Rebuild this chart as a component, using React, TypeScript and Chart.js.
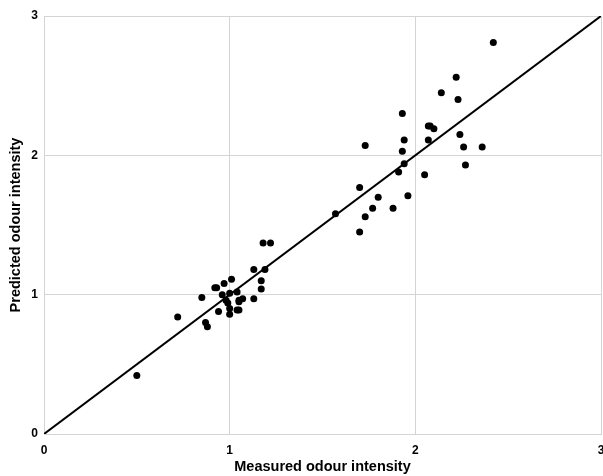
import React, { useEffect, useRef } from "react";
import { Chart, registerables } from "chart.js";

Chart.register(...registerables);

const measured = [
  0.50, 0.72, 0.85, 0.87, 0.88, 0.92, 0.93, 0.94, 0.97, 0.96, 0.98, 0.99, 1.00, 1.01, 1.00, 1.00,
  1.04, 1.04, 1.05, 1.05, 1.05, 1.07, 1.13, 1.13, 1.17, 1.17, 1.19, 1.18, 1.22,
  1.57, 1.70, 1.70, 1.73, 1.73, 1.77, 1.80, 1.88, 1.91, 1.93, 1.93, 1.94, 1.94, 1.96, 2.05,
  2.07, 2.07, 2.08, 2.10, 2.14, 2.22, 2.23, 2.24, 2.26, 2.27, 2.36, 2.42,
];
const predicted = [
  0.42, 0.84, 0.98, 0.80, 0.77, 1.05, 1.05, 0.88, 1.08, 1.00, 0.96, 0.94, 1.01, 1.11, 0.90, 0.86,
  1.02, 0.89, 0.89, 0.96, 0.95, 0.97, 0.97, 1.18, 1.10, 1.04, 1.18, 1.37, 1.37,
  1.58, 1.45, 1.77, 1.56, 2.07, 1.62, 1.70, 1.62, 1.88, 2.30, 2.03, 1.94, 2.11, 1.71, 1.86,
  2.11, 2.21, 2.21, 2.19, 2.45, 2.56, 2.40, 2.15, 2.06, 1.93, 2.06, 2.81,
];
const identityLine = [0, 3];
const tickValues = [0, 1, 2, 3];
const xTitle = "Measured odour intensity";
const yTitle = "Predicted odour intensity";

export default function App() {
  const ref = useRef<HTMLCanvasElement>(null);
  useEffect(() => {
    document.body.style.margin = "0";
    const ctx = ref.current!.getContext("2d")!;
    const font = "'Liberation Sans', Arial, sans-serif";
    const chart = new Chart(ctx, {
      type: "scatter",
      data: {
        datasets: [
          {
            type: "line",
            data: identityLine.map((v) => ({ x: v, y: v })),
            borderColor: "#000",
            borderWidth: 2,
            pointRadius: 0,
            fill: false,
          } as any,
          {
            type: "scatter",
            data: measured.map((x, i) => ({ x, y: predicted[i] })),
            backgroundColor: "#000",
            borderColor: "#000",
            pointRadius: 3.5,
            borderWidth: 0,
          },
        ],
      },
      options: {
        animation: false,
        responsive: false,
        devicePixelRatio: 1,
        layout: { padding: { left: 0, right: 0, top: 16, bottom: 0 } },
        plugins: { legend: { display: false }, tooltip: { enabled: false } },
        scales: {
          x: {
            type: "linear",
            min: 0,
            max: 3,
            afterBuildTicks: (s: any) => {
              s.ticks = tickValues.map((v) => ({ value: v }));
            },
            afterFit: (s: any) => {
              s.height = 42;
              s.paddingLeft = 0;
              s.paddingRight = 0;
            },
            grid: { color: "#d4d4d4", drawTicks: false, lineWidth: 1 },
            border: { display: true, color: "#d4d4d4" },
            ticks: {
              padding: 9,
              color: "#000",
              font: { family: font, size: 12, weight: "bold" },
            },
            title: {
              display: true,
              text: xTitle,
              color: "#000",
              font: { family: font, size: 14.5, weight: "bold" },
              padding: { top: 2, bottom: 0 },
            },
          },
          y: {
            type: "linear",
            min: 0,
            max: 3,
            afterBuildTicks: (s: any) => {
              s.ticks = tickValues.map((v) => ({ value: v }));
            },
            afterFit: (s: any) => {
              s.width = 44;
              s.paddingTop = 0;
              s.paddingBottom = 0;
            },
            grid: { color: "#d4d4d4", drawTicks: false, lineWidth: 1 },
            border: { display: true, color: "#d4d4d4" },
            ticks: {
              padding: 6,
              color: "#000",
              font: { family: font, size: 12, weight: "bold" },
            },
            title: {
              display: true,
              text: yTitle,
              color: "#000",
              font: { family: font, size: 14.5, weight: "bold" },
              padding: { top: 7, bottom: 0 },
            },
          },
        },
      },
    });
    return () => chart.destroy();
  }, []);
  return (
    <div style={{ width: 603, height: 476, overflow: "hidden" }}>
      <canvas ref={ref} width={605} height={476} style={{ display: "block" }} />
    </div>
  );
}
